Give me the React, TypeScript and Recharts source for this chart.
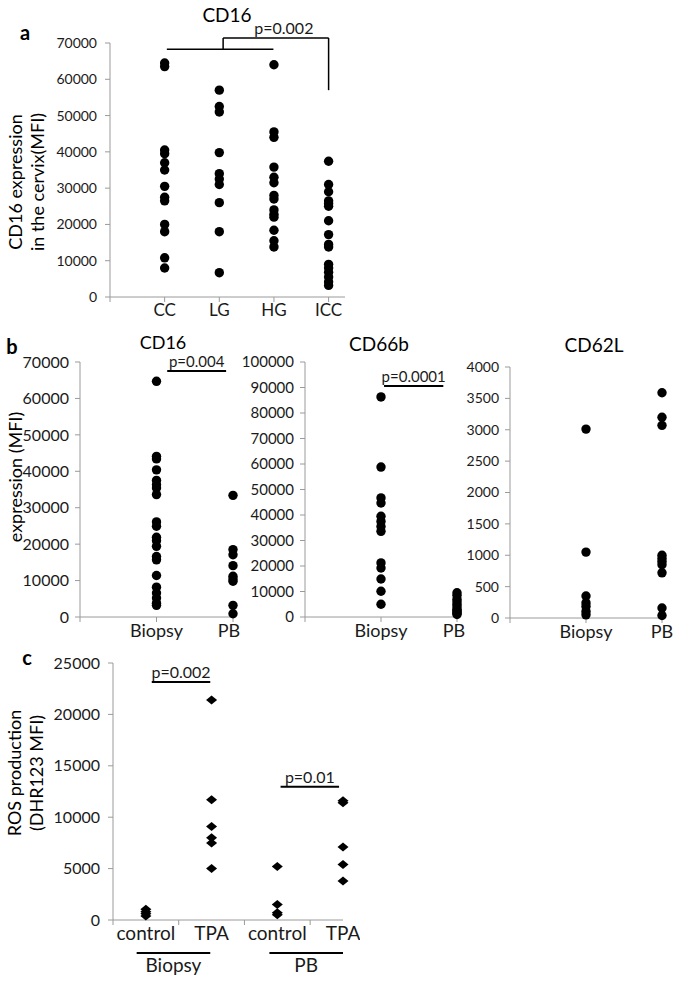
import React from "react";
import {
  ScatterChart,
  Scatter,
  XAxis,
  YAxis,
  ReferenceLine,
} from "recharts";

const FONT = "Lato, 'Open Sans', sans-serif";
const AXIS = "#9a9a9a";
const INK = "#1a1a1a";

// panel a: CD16 in the cervix
const cervixGroups = ["CC", "LG", "HG", "ICC"];
const ccValues = [64500, 63500, 40500, 39500, 37000, 35000, 30500, 27500, 26500, 20000, 18000, 10800, 8000];
const lgValues = [57000, 52500, 51000, 39800, 34000, 32500, 31000, 26000, 18000, 6700];
const hgValues = [64000, 45500, 44000, 35800, 33000, 31500, 28000, 27000, 24000, 22800, 22000, 18400, 15500, 13800];
const iccValues = [37400, 31000, 29000, 26500, 25800, 25000, 21000, 17200, 14500, 13800, 9000, 8000, 6800, 5500, 4200, 3200];
const cervixTicks = [0, 10000, 20000, 30000, 40000, 50000, 60000, 70000];

// panel b: biopsy vs peripheral blood
const sourceGroups = ["Biopsy", "PB"];
const cd16Biopsy = [64700, 44100, 43400, 40400, 37500, 36300, 35400, 33600, 26100, 24900, 21900, 20900, 19400, 16600, 15700, 11400, 8200, 6600, 5200, 3800, 3200];
const cd16PB = [33400, 18500, 17100, 14100, 11200, 10400, 9800, 3200, 900];
const cd66bBiopsy = [86300, 58800, 46700, 44700, 39500, 37500, 35500, 33600, 21200, 19200, 14900, 10100, 5000];
const cd66bPB = [9500, 8500, 7000, 6000, 5000, 4000, 3000, 2500, 2000, 1500, 1000];
const cd62lBiopsy = [3010, 1050, 350, 240, 185, 105, 50];
const cd62lPB = [3590, 3200, 3070, 1000, 950, 900, 850, 720, 160, 40];
const cd16Ticks = [0, 10000, 20000, 30000, 40000, 50000, 60000, 70000];
const cd66bTicks = [0, 10000, 20000, 30000, 40000, 50000, 60000, 70000, 80000, 90000, 100000];
const cd62lTicks = [0, 500, 1000, 1500, 2000, 2500, 3000, 3500, 4000];

// panel c: ROS production
const rosGroups = ["control", "TPA", "control", "TPA"];
const rosBiopsyControl = [1050, 800, 600, 400];
const rosBiopsyTPA = [21400, 11700, 9100, 8000, 7500, 5000];
const rosPBControl = [5200, 1500, 700, 500];
const rosPBTPA = [11600, 11400, 7100, 5400, 3800];
const rosTicks = [0, 5000, 10000, 15000, 20000, 25000];

const toPoints = (groups: number[][], offset = 1) =>
  groups.flatMap((vals, i) => vals.map((y) => ({ x: i + offset, y })));

const Dot = (p: any) => <circle cx={p.cx} cy={p.cy} r={4.7} fill="#000" />;
const Diamond = (p: any) => (
  <polygon
    points={`${p.cx},${p.cy - 4.5} ${p.cx + 5.5},${p.cy} ${p.cx},${p.cy + 4.5} ${p.cx - 5.5},${p.cy}`}
    fill="#000"
  />
);

const yTick = (size = 14) => ({ fontSize: size, fill: INK, fontFamily: FONT });
const xTick = { fontSize: 18, fill: INK, fontFamily: FONT };
const pLabel = (value: string, dx = 0, size = 16) => ({
  value,
  position: "top" as const,
  offset: 4,
  dx,
  fill: INK,
  fontSize: size,
  fontFamily: FONT,
});

const abs = (left: number, top: number): React.CSSProperties => ({ position: "absolute", left, top });

const Title = ({ x, y, text, size = 18, bold = false }: { x: number; y: number; text: string; size?: number; bold?: boolean }) => (
  <div
    style={{
      position: "absolute",
      left: x,
      top: y,
      transform: "translate(-50%, -50%)",
      fontSize: size,
      fontWeight: bold ? 700 : 400,
      lineHeight: 1,
      whiteSpace: "nowrap",
    }}
  >
    {text}
  </div>
);

const SideLabel = ({ x, y, lines }: { x: number; y: number; lines: string[] }) => (
  <div
    style={{
      position: "absolute",
      left: x,
      top: y,
      transform: "translate(-50%, -50%) rotate(-90deg)",
      fontSize: 18,
      lineHeight: "22px",
      textAlign: "center",
      whiteSpace: "nowrap",
    }}
  >
    {lines.map((l) => (
      <div key={l}>{l}</div>
    ))}
  </div>
);

function CervixChart() {
  const data = toPoints([ccValues, lgValues, hgValues, iccValues]);
  return (
    <ScatterChart width={360} height={325} margin={{ top: 43, right: 15, bottom: 0, left: 50 }}>
      <XAxis
        type="number"
        dataKey="x"
        domain={[0, 4.3]}
        ticks={[0, 1, 2, 3, 4]}
        tickFormatter={(v: number) => (v === 0 ? "" : cervixGroups[v - 1])}
        stroke={AXIS}
        tick={{ ...xTick, fontSize: 17 }}
        tickSize={5}
        height={28}
      />
      <YAxis
        type="number"
        dataKey="y"
        domain={[0, 70000]}
        ticks={cervixTicks}
        stroke={AXIS}
        tick={yTick(14)}
        tickSize={5}
        tickMargin={8}
        width={60}
      />
      <Scatter data={data} shape={Dot} isAnimationActive={false} />
      <ReferenceLine segment={[{ x: 1.04, y: 68300 }, { x: 2.99, y: 68300 }]} stroke="#000" strokeWidth={1.5} ifOverflow="visible" />
      <ReferenceLine segment={[{ x: 2.07, y: 68300 }, { x: 2.07, y: 71400 }]} stroke="#000" strokeWidth={1.5} ifOverflow="visible" />
      <ReferenceLine
        segment={[{ x: 2.07, y: 71400 }, { x: 4, y: 71400 }]}
        stroke="#000"
        strokeWidth={1.5}
        ifOverflow="visible"
        label={pLabel("p=0.002", 8)}
      />
      <ReferenceLine segment={[{ x: 4, y: 71400 }, { x: 4, y: 57000 }]} stroke="#000" strokeWidth={1.5} ifOverflow="visible" />
    </ScatterChart>
  );
}

function SourceChart({
  width,
  height,
  margin,
  yWidth,
  tickSize,
  biopsy,
  pb,
  ticks,
  p,
}: {
  width: number;
  height: number;
  margin: { top: number; right: number; bottom: number; left: number };
  yWidth: number;
  tickSize: number;
  biopsy: number[];
  pb: number[];
  ticks: number[];
  p?: { text: string; x1: number; x2: number; y: number };
}) {
  const data = toPoints([biopsy, pb]);
  const max = ticks[ticks.length - 1];
  return (
    <ScatterChart width={width} height={height} margin={margin}>
      <XAxis
        type="number"
        dataKey="x"
        domain={[0, 2]}
        ticks={[0, 1, 2]}
        tickFormatter={(v: number) => (v === 0 ? "" : sourceGroups[v - 1])}
        stroke={AXIS}
        tick={xTick}
        tickSize={5}
        height={28}
      />
      <YAxis
        type="number"
        dataKey="y"
        domain={[0, max]}
        ticks={ticks}
        stroke={AXIS}
        tick={yTick(tickSize)}
        tickSize={5}
        tickMargin={6}
        width={yWidth}
      />
      <Scatter data={data} shape={Dot} isAnimationActive={false} />
      {p && (
        <ReferenceLine
          segment={[{ x: p.x1, y: p.y }, { x: p.x2, y: p.y }]}
          stroke="#000"
          strokeWidth={2}
          ifOverflow="visible"
          label={pLabel(p.text, 0, 15)}
        />
      )}
    </ScatterChart>
  );
}

const RosTick = (props: any) => {
  const { x, y, payload } = props;
  const v = payload.value as number;
  if (Number.isInteger(v)) {
    return <line x1={x} x2={x} y1={y} y2={y + 5} stroke={AXIS} />;
  }
  return (
    <text x={x} y={y + 20} textAnchor="middle" fontSize={19} fill={INK} fontFamily={FONT}>
      {rosGroups[Math.floor(v)]}
    </text>
  );
};

function RosChart() {
  const data = toPoints([rosBiopsyControl, rosBiopsyTPA, rosPBControl, rosPBTPA], 0.5);
  return (
    <ScatterChart width={360} height={343} margin={{ top: 23, right: 17, bottom: 0, left: 50 }}>
      <XAxis
        type="number"
        dataKey="x"
        domain={[0, 3.5]}
        ticks={[0, 0.5, 1, 1.5, 2, 2.5, 3, 3.5]}
        stroke={AXIS}
        tick={RosTick}
        tickLine={false}
        tickSize={0}
        tickMargin={0}
        height={63}
        interval={0}
      />
      <YAxis
        type="number"
        dataKey="y"
        domain={[0, 25000]}
        ticks={rosTicks}
        stroke={AXIS}
        tick={yTick(16)}
        tickSize={5}
        tickMargin={8}
        width={63}
      />
      <Scatter data={data} shape={Diamond} isAnimationActive={false} />
      <ReferenceLine
        segment={[{ x: 0.59, y: 23150 }, { x: 1.48, y: 23150 }]}
        stroke="#000"
        strokeWidth={2}
        ifOverflow="visible"
        label={pLabel("p=0.002")}
      />
      <ReferenceLine
        segment={[{ x: 2.55, y: 12950 }, { x: 3.44, y: 12950 }]}
        stroke="#000"
        strokeWidth={2}
        ifOverflow="visible"
        label={pLabel("p=0.01")}
      />
      <ReferenceLine
        segment={[{ x: 0.36, y: -3200 }, { x: 1.48, y: -3200 }]}
        stroke="#000"
        strokeWidth={2}
        ifOverflow="visible"
        label={{ value: "Biopsy", position: "bottom", offset: 6, fill: INK, fontSize: 19, fontFamily: FONT }}
      />
      <ReferenceLine
        segment={[{ x: 2.38, y: -3200 }, { x: 3.5, y: -3200 }]}
        stroke="#000"
        strokeWidth={2}
        ifOverflow="visible"
        label={{ value: "PB", position: "bottom", offset: 6, fill: INK, fontSize: 19, fontFamily: FONT }}
      />
    </ScatterChart>
  );
}

export default function App() {
  return (
    <div
      style={{
        position: "absolute",
        left: 0,
        top: 0,
        width: 675,
        height: 983,
        background: "#fff",
        fontFamily: FONT,
        color: "#000",
      }}
    >
      <div style={abs(0, 0)}>
        <CervixChart />
      </div>
      <div style={abs(0, 320)}>
        <SourceChart
          width={240}
          height={325}
          margin={{ top: 42, right: 7, bottom: 0, left: 18 }}
          yWidth={62}
          tickSize={16}
          biopsy={cd16Biopsy}
          pb={cd16PB}
          ticks={cd16Ticks}
          p={{ text: "p=0.004", x1: 1.14, x2: 1.91, y: 67500 }}
        />
      </div>
      <div style={abs(240, 320)}>
        <SourceChart
          width={225}
          height={325}
          margin={{ top: 42, right: 8, bottom: 0, left: 0 }}
          yWidth={65}
          tickSize={15}
          biopsy={cd66bBiopsy}
          pb={cd66bPB}
          ticks={cd66bTicks}
          p={{ text: "p=0.0001", x1: 1.04, x2: 1.82, y: 90600 }}
        />
      </div>
      <div style={abs(465, 320)}>
        <SourceChart
          width={210}
          height={326}
          margin={{ top: 47, right: 13, bottom: 0, left: 0 }}
          yWidth={45}
          tickSize={14}
          biopsy={cd62lBiopsy}
          pb={cd62lPB}
          ticks={cd62lTicks}
        />
      </div>
      <div style={abs(0, 640)}>
        <RosChart />
      </div>

      <Title x={25} y={32} text="a" size={20} bold />
      <Title x={12} y={346} text="b" size={20} bold />
      <Title x={27} y={657} text="c" size={20} bold />

      <Title x={227} y={14} text="CD16" size={19} />
      <Title x={163} y={342} text="CD16" size={18} />
      <Title x={379} y={343} text="CD66b" size={19} />
      <Title x={594} y={344} text="CD62L" size={19} />

      <SideLabel x={26} y={182} lines={["CD16 expression", "in the cervix(MFI)"]} />
      <SideLabel x={15} y={477} lines={["expression (MFI)"]} />
      <SideLabel x={25} y={773} lines={["ROS production", "(DHR123 MFI)"]} />
    </div>
  );
}
